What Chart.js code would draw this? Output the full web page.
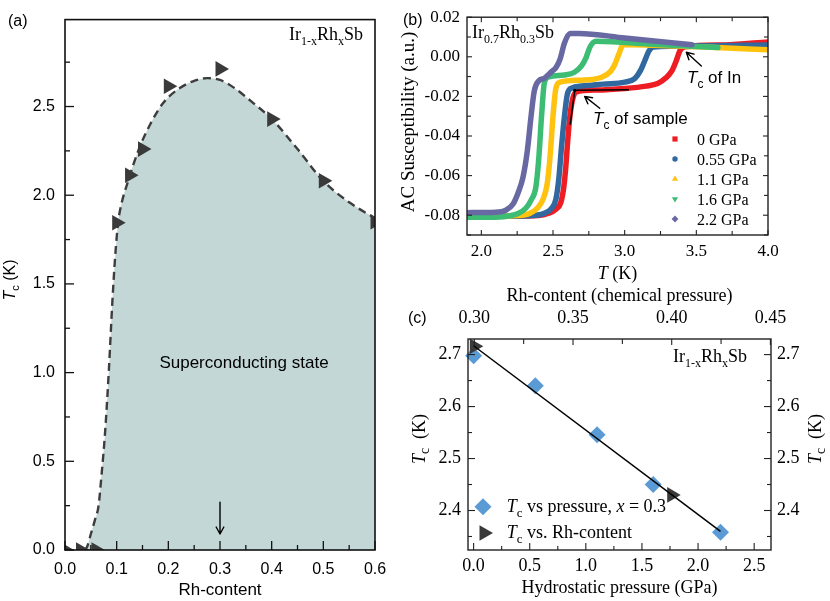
<!DOCTYPE html>
<html><head><meta charset="utf-8">
<script src="https://cdn.jsdelivr.net/npm/chart.js@4/dist/chart.umd.min.js"></script>
<style>
html,body{margin:0;padding:0;background:#fff;}
#wrap{position:relative;width:830px;height:601px;overflow:hidden;background:#fff;}
canvas{position:absolute;display:block;}
</style></head><body>
<div id="wrap">
<canvas id="ca" width="400" height="601" style="left:0;top:0;width:400px;height:601px"></canvas>
<canvas id="cb" width="430" height="290" style="left:400px;top:0;width:430px;height:290px"></canvas>
<canvas id="cc" width="430" height="321" style="left:400px;top:280px;width:430px;height:321px"></canvas>
</div>
<script>
// ---------- Panel (a): Tc vs Rh-content ----------
const rhContent = [0, 0.03, 0.06, 0.1, 0.125, 0.15, 0.2, 0.3, 0.4, 0.5, 0.6];
const tcRh      = [0, 0, 0, 1.845, 2.113, 2.26, 2.614, 2.712, 2.429, 2.082, 1.85];
const boundaryX = [0.038, 0.043, 0.05, 0.058, 0.065, 0.07, 0.078, 0.085, 0.0915, 0.097, 0.103, 0.11, 0.12, 0.143, 0.165, 0.19, 0.22, 0.25, 0.275, 0.3, 0.33, 0.36, 0.4, 0.45, 0.5, 0.55, 0.6];
const boundaryY = [0, 0.02, 0.09, 0.17, 0.25, 0.4, 0.68, 1.02, 1.39, 1.65, 1.85, 1.96, 2.06, 2.26, 2.4, 2.52, 2.6, 2.645, 2.66, 2.65, 2.6, 2.53, 2.43, 2.26, 2.08, 1.96, 1.87];

// ---------- Panel (b): AC susceptibility vs T ----------
const pressureLabels = ['0 GPa', '0.55 GPa', '1.1 GPa', '1.6 GPa', '2.2 GPa'];
const T_p0   = [1.9, 2.2, 2.4, 2.47, 2.52, 2.555, 2.575, 2.59, 2.6, 2.615, 2.635, 2.66, 2.8, 3.0, 3.15, 3.23, 3.29, 3.33, 3.36, 3.385, 3.42, 3.7, 4.0];
const chi_p0 = [-0.0805, -0.0805, -0.0802, -0.079, -0.077, -0.0735, -0.066, -0.055, -0.045, -0.032, -0.022, -0.0178, -0.0168, -0.016, -0.0148, -0.0135, -0.0105, -0.007, -0.002, 0.003, 0.005, 0.006, 0.0075];
const T_p055   = [1.9, 2.2, 2.36, 2.44, 2.49, 2.52, 2.54, 2.56, 2.58, 2.6, 2.63, 2.7, 2.85, 3.0, 3.07, 3.11, 3.14, 3.17, 3.2, 3.5, 4.0];
const chi_p055 = [-0.0805, -0.0805, -0.0802, -0.079, -0.0765, -0.072, -0.062, -0.045, -0.03, -0.019, -0.0158, -0.0148, -0.0138, -0.0128, -0.011, -0.007, -0.002, 0.003, 0.005, 0.0055, 0.006];
const T_p11   = [1.9, 2.1, 2.26, 2.34, 2.39, 2.43, 2.46, 2.48, 2.5, 2.52, 2.55, 2.7, 2.84, 2.9, 2.93, 2.96, 2.99, 3.2, 3.6, 4.0];
const chi_p11 = [-0.0805, -0.0805, -0.0802, -0.079, -0.0765, -0.072, -0.064, -0.05, -0.03, -0.016, -0.0128, -0.0118, -0.0103, -0.0075, -0.004, 0.0015, 0.0062, 0.0058, 0.0048, 0.0035];
const T_p16   = [1.9, 2.05, 2.18, 2.26, 2.31, 2.35, 2.38, 2.4, 2.42, 2.44, 2.47, 2.58, 2.65, 2.7, 2.73, 2.76, 2.8, 3.2, 3.65];
const chi_p16 = [-0.081, -0.081, -0.0805, -0.079, -0.0765, -0.072, -0.066, -0.052, -0.03, -0.013, -0.0102, -0.0092, -0.0078, -0.0045, -0.0005, 0.0052, 0.0078, 0.0063, 0.0047];
const T_p22   = [1.9, 2.1, 2.17, 2.22, 2.26, 2.29, 2.32, 2.35, 2.37, 2.4, 2.44, 2.49, 2.52, 2.55, 2.58, 2.62, 2.68, 3.0, 3.47];
const chi_p22 = [-0.0787, -0.0785, -0.0775, -0.0745, -0.068, -0.061, -0.048, -0.028, -0.017, -0.0122, -0.0108, -0.0075, -0.0055, -0.001, 0.007, 0.0118, 0.0118, 0.0095, 0.0061];
const tangentVT = [2.62, 2.652], tangentVChi = [-0.0343, -0.017];
const tangentHT = [2.652, 3.03], tangentHChi = [-0.0169, -0.0166];
const arrowSampleT = [2.826, 2.721], arrowSampleChi = [-0.026, -0.020];
const arrowInT = [3.535, 3.43], arrowInChi = [-0.0046, 0.0023];

// ---------- Panel (c): Tc vs pressure / Rh-content ----------
const pressureGPa = [0, 0.55, 1.1, 1.6, 2.2];
const tcPressure  = [2.698, 2.64, 2.546, 2.45, 2.358];
const rhContentC  = [0.3, 0.4];
const tcRhC       = [2.716, 2.43];
const fitP  = [0, 2.2];
const fitTc = [2.717, 2.36];

const SANS = '"Liberation Sans", Arial, Helvetica, sans-serif';
const SERIF = '"Liberation Serif", "Times New Roman", Times, serif';
const f = (size, fam, style) => (style ? style + ' ' : '') + size + 'px ' + fam;
const pts = (xs, ys) => xs.map((x, i) => ({x: x, y: ys[i]}));

function rich(ctx, parts, x, y, align, rot) {
  ctx.save();
  ctx.translate(x, y);
  if (rot) ctx.rotate(rot);
  ctx.textBaseline = 'alphabetic';
  ctx.textAlign = 'left';
  ctx.fillStyle = '#000';
  let w = 0;
  parts.forEach(p => { ctx.font = p[1]; w += ctx.measureText(p[0]).width; });
  let cx = align === 'center' ? -w / 2 : (align === 'right' ? -w : 0);
  parts.forEach(p => { ctx.font = p[1]; ctx.fillText(p[0], cx, p[2] || 0); cx += ctx.measureText(p[0]).width; });
  ctx.restore();
}
function arrow(ctx, x0, y0, x1, y1, head, lw) {
  const a = Math.atan2(y1 - y0, x1 - x0);
  ctx.save();
  ctx.strokeStyle = '#000'; ctx.lineWidth = lw; ctx.lineCap = 'round'; ctx.lineJoin = 'round';
  ctx.beginPath();
  ctx.moveTo(x0, y0); ctx.lineTo(x1, y1);
  ctx.moveTo(x1 - head * Math.cos(a - 0.5), y1 - head * Math.sin(a - 0.5));
  ctx.lineTo(x1, y1);
  ctx.lineTo(x1 - head * Math.cos(a + 0.5), y1 - head * Math.sin(a + 0.5));
  ctx.stroke();
  ctx.restore();
}
function marker(ctx, style, x, y, r, color) {
  ctx.save();
  ctx.fillStyle = color;
  ctx.beginPath();
  if (style === 'square') ctx.rect(x - r, y - r, 2 * r, 2 * r);
  else if (style === 'circle') ctx.arc(x, y, r, 0, Math.PI * 2);
  else if (style === 'up') { ctx.moveTo(x, y - r); ctx.lineTo(x + 0.866 * r, y + 0.5 * r); ctx.lineTo(x - 0.866 * r, y + 0.5 * r); }
  else if (style === 'down') { ctx.moveTo(x, y + r); ctx.lineTo(x + 0.866 * r, y - 0.5 * r); ctx.lineTo(x - 0.866 * r, y - 0.5 * r); }
  else if (style === 'right') { ctx.moveTo(x + r, y); ctx.lineTo(x - 0.5 * r, y - 0.866 * r); ctx.lineTo(x - 0.5 * r, y + 0.866 * r); }
  else if (style === 'diamond') { ctx.moveTo(x, y - r); ctx.lineTo(x + r, y); ctx.lineTo(x, y + r); ctx.lineTo(x - r, y); }
  ctx.closePath();
  ctx.fill();
  ctx.restore();
}
function framePlugin(cfg) {
  return {
    id: 'frame',
    afterDatasetsDraw(chart) {
      const ctx = chart.ctx, a = chart.chartArea;
      ctx.save();
      ctx.strokeStyle = cfg.color; ctx.lineWidth = cfg.tickWidth;
      cfg.ticks.forEach(t => {
        const sc = chart.scales[t.scale];
        const k0 = Math.ceil(sc.min / t.minor - 1e-6), k1 = Math.floor(sc.max / t.minor + 1e-6);
        for (let k = k0; k <= k1; k++) {
          const v = k * t.minor;
          const major = Math.abs(v / t.major - Math.round(v / t.major)) < 1e-6;
          const len = major ? t.majorLen : t.minorLen;
          const p = sc.getPixelForValue(v);
          ctx.beginPath();
          if (t.side === 'left') { ctx.moveTo(a.left, p); ctx.lineTo(a.left + len, p); }
          if (t.side === 'right') { ctx.moveTo(a.right, p); ctx.lineTo(a.right - len, p); }
          if (t.side === 'bottom') { ctx.moveTo(p, a.bottom); ctx.lineTo(p, a.bottom - len); }
          if (t.side === 'top') { ctx.moveTo(p, a.top); ctx.lineTo(p, a.top + len); }
          ctx.stroke();
        }
      });
      ctx.lineWidth = cfg.frameWidth;
      ctx.strokeRect(a.left, a.top, a.right - a.left, a.bottom - a.top);
      ctx.restore();
    }
  };
}
function axisOpts(o) {
  return {
    type: 'linear', position: o.position, min: o.min, max: o.max,
    grid: {display: false, drawTicks: false}, border: {display: false},
    ticks: {display: o.showLabels !== false, stepSize: o.step, padding: o.pad, color: '#000', font: {family: o.fam, size: o.size},
            maxRotation: 0, autoSkip: false, includeBounds: false, callback: v => v.toFixed(o.dec)},
    afterFit(s) { if (o.width !== undefined) s.width = o.width; if (o.height !== undefined) s.height = o.height; }
  };
}
const common = {
  responsive: false, animation: false, events: [],
  plugins: {legend: {display: false}, tooltip: {enabled: false}}
};

// ---------- Chart (a) ----------
new Chart(document.getElementById('ca'), {
  type: 'line',
  data: {datasets: [
    {label: 'Tc vs Rh', data: pts(rhContent, tcRh), showLine: false, pointStyle: 'triangle', pointRotation: 90,
     pointRadius: 9, pointBackgroundColor: '#3a3a3a', pointBorderWidth: 0, clip: 0, order: 0},
    {label: 'boundary', data: pts(boundaryX, boundaryY), borderColor: '#3d3d3d', borderWidth: 2.4, borderDash: [8, 5],
     fill: 'origin', backgroundColor: '#c4d7d7', pointRadius: 0, cubicInterpolationMode: 'monotone', clip: 0, order: 1}
  ]},
  options: Object.assign({}, common, {
    layout: {autoPadding: false, padding: {left: 0, right: 25, top: 13, bottom: 0}},
    scales: {
      x: axisOpts({position: 'bottom', min: 0, max: 0.6, step: 0.1, pad: 10, fam: SANS, size: 16, dec: 1, height: 51}),
      y: axisOpts({position: 'left', min: 0, max: 2.99, step: 0.5, pad: 10, fam: SANS, size: 16, dec: 1, width: 65})
    }
  }),
  plugins: [framePlugin({color: '#111', tickWidth: 1.3, frameWidth: 1.6, ticks: [
    {scale: 'x', side: 'bottom', major: 0.1, minor: 0.05, majorLen: 9, minorLen: 5},
    {scale: 'y', side: 'left', major: 0.5, minor: 0.25, majorLen: 9, minorLen: 5}
  ]}), {
    id: 'txtA',
    afterDraw(chart) {
      const ctx = chart.ctx, xs = chart.scales.x, ys = chart.scales.y;
      rich(ctx, [['(a)', f(16, SANS)]], 8, 26, 'left');
      rich(ctx, [['Ir', f(18, SERIF)], ['1-x', f(12, SERIF), 5], ['Rh', f(18, SERIF)], ['x', f(12, SERIF), 5], ['Sb', f(18, SERIF)]], 289, 40, 'left');
      rich(ctx, [['Superconducting state', f(17, SANS)]], 244, 368, 'center');
      rich(ctx, [['Rh-content', f(17, SANS)]], 220, 595, 'center');
      rich(ctx, [['T', f(16, SANS, 'italic')], ['c', f(11, SANS), 4], [' (K)', f(16, SANS)]], 15, 280, 'center', -Math.PI / 2);
      arrow(ctx, xs.getPixelForValue(0.3), ys.getPixelForValue(0.27), xs.getPixelForValue(0.3), ys.getPixelForValue(0.09), 8, 1.4);
    }
  }]
});

// ---------- Chart (b) ----------
const bColors = ['#ee1d23', '#30689f', '#ffc20f', '#3dbd74', '#6868a3'];
const bMarkers = ['square', 'circle', 'up', 'down', 'diamond'];
const bSeries = [[T_p0, chi_p0], [T_p055, chi_p055], [T_p11, chi_p11], [T_p16, chi_p16], [T_p22, chi_p22]];
const bDatasets = bSeries.map((s, i) => ({
  label: pressureLabels[i], data: pts(s[0], s[1]), borderColor: bColors[i], borderWidth: 5.5,
  borderCapStyle: 'round', borderJoinStyle: 'round', pointRadius: 0, cubicInterpolationMode: 'monotone',
  fill: false, clip: 0, order: 5 - i
}));
bDatasets.push({label: 'tangent1', data: pts(tangentVT, tangentVChi), borderColor: '#000', borderWidth: 1.5, pointRadius: 0, fill: false, order: 0});
bDatasets.push({label: 'tangent2', data: pts(tangentHT, tangentHChi), borderColor: '#000', borderWidth: 1.5, pointRadius: 0, fill: false, order: 0});
new Chart(document.getElementById('cb'), {
  type: 'line',
  data: {datasets: bDatasets},
  options: Object.assign({}, common, {
    layout: {autoPadding: false, padding: {left: 0, right: 62, top: 13, bottom: 0}},
    scales: {
      x: axisOpts({position: 'bottom', min: 1.9, max: 4.0, step: 0.5, pad: 6, fam: SERIF, size: 17, dec: 1, height: 55}),
      y: axisOpts({position: 'left', min: -0.09, max: 0.02, step: 0.02, pad: 7, fam: SERIF, size: 17, dec: 2, width: 67})
    }
  }),
  plugins: [framePlugin({color: '#222', tickWidth: 1.1, frameWidth: 1.4, ticks: [
    {scale: 'x', side: 'bottom', major: 0.5, minor: 0.25, majorLen: 5, minorLen: 4},
    {scale: 'x', side: 'top', major: 0.5, minor: 0.25, majorLen: 5, minorLen: 4},
    {scale: 'y', side: 'left', major: 0.02, minor: 0.01, majorLen: 5, minorLen: 4},
    {scale: 'y', side: 'right', major: 0.02, minor: 0.01, majorLen: 5, minorLen: 4}
  ]}), {
    id: 'txtB',
    afterDraw(chart) {
      const ctx = chart.ctx, xs = chart.scales.x, ys = chart.scales.y;
      const X = v => xs.getPixelForValue(v), Y = v => ys.getPixelForValue(v);
      rich(ctx, [['(b)', f(16, SANS)]], 3, 25, 'left');
      rich(ctx, [['Ir', f(18, SERIF)], ['0.7', f(12, SERIF), 5], ['Rh', f(18, SERIF)], ['0.3', f(12, SERIF), 5], ['Sb', f(18, SERIF)]], 72, 38, 'left');
      rich(ctx, [['T', f(17, SANS, 'italic')], ['c', f(12, SANS), 5], [' of sample', f(17, SANS)]], 193, 124, 'left');
      rich(ctx, [['T', f(17, SANS, 'italic')], ['c', f(12, SANS), 5], [' of In', f(17, SANS)]], 287, 83, 'left');
      arrow(ctx, X(arrowSampleT[0]), Y(arrowSampleChi[0]), X(arrowSampleT[1]), Y(arrowSampleChi[1]), 8, 1.4);
      arrow(ctx, X(arrowInT[0]), Y(arrowInChi[0]), X(arrowInT[1]), Y(arrowInChi[1]), 8, 1.4);
      ctx.fillStyle = '#000'; ctx.beginPath(); ctx.arc(X(tangentVT[1]), Y(tangentVChi[1]), 1.6, 0, Math.PI * 2); ctx.fill();
      const mr = [2.6, 2.7, 3.6, 3.6, 3.4];
      pressureLabels.forEach((lab, i) => {
        const yy = 139 + i * 20;
        marker(ctx, bMarkers[i], 275, yy, mr[i], bColors[i]);
        rich(ctx, [[lab, f(16, SERIF)]], 297, yy + 5.5, 'left');
      });
      rich(ctx, [['T', f(18, SERIF, 'italic')], [' (K)', f(18, SERIF)]], 217.5, 279, 'center');
      rich(ctx, [['AC Susceptibility (a.u.)', f(19, SERIF)]], 14, 122, 'center', -Math.PI / 2);
    }
  }]
});

// ---------- Chart (c) ----------
new Chart(document.getElementById('cc'), {
  type: 'line',
  data: {datasets: [
    {label: 'fit', data: pts(fitP, fitTc), borderColor: '#000', borderWidth: 1.5, pointRadius: 0, fill: false, order: 0},
    {label: 'Tc vs. Rh-content', data: pts(rhContentC, tcRhC), xAxisID: 'x2', showLine: false, pointStyle: 'triangle', pointRotation: 90,
     pointRadius: 9, pointBackgroundColor: '#3a3a3a', pointBorderWidth: 0, clip: false, order: 1},
    {label: 'Tc vs pressure, x = 0.3', data: pts(pressureGPa, tcPressure), showLine: false, pointStyle: 'rectRot',
     pointRadius: 8.5, pointBackgroundColor: '#5b9bd5', pointBorderWidth: 0, clip: false, order: 2}
  ]},
  options: Object.assign({}, common, {
    layout: {autoPadding: false, padding: 0},
    scales: {
      x: axisOpts({position: 'bottom', min: -0.05, max: 2.65, step: 0.5, pad: 5, fam: SERIF, size: 18, dec: 1, height: 51}),
      x2: axisOpts({position: 'top', min: 0.2968, max: 0.4503, step: 0.05, pad: 10, fam: SERIF, size: 18, dec: 2, height: 59}),
      y: axisOpts({position: 'left', min: 2.324, max: 2.73, step: 0.1, pad: 7, fam: SERIF, size: 18, dec: 1, width: 68}),
      y2: axisOpts({position: 'right', min: 2.324, max: 2.73, step: 0.1, pad: 6, fam: SERIF, size: 18, dec: 1, width: 59})
    }
  }),
  plugins: [framePlugin({color: '#222', tickWidth: 1.1, frameWidth: 1.4, ticks: [
    {scale: 'x', side: 'bottom', major: 0.5, minor: 0.25, majorLen: 7, minorLen: 4},
    {scale: 'x2', side: 'top', major: 0.05, minor: 0.025, majorLen: 6, minorLen: 5},
    {scale: 'y', side: 'left', major: 0.1, minor: 0.05, majorLen: 7, minorLen: 4},
    {scale: 'y2', side: 'right', major: 0.1, minor: 0.05, majorLen: 7, minorLen: 4}
  ]}), {
    id: 'txtC',
    afterDraw(chart) {
      const ctx = chart.ctx;
      rich(ctx, [['(c)', f(16, SANS)]], 8, 43, 'left');
      rich(ctx, [['Rh-content (chemical pressure)', f(18, SERIF)]], 219.5, 21, 'center');
      rich(ctx, [['Ir', f(18, SERIF)], ['1-x', f(12, SERIF), 5], ['Rh', f(18, SERIF)], ['x', f(12, SERIF), 5], ['Sb', f(18, SERIF)]], 273, 82, 'left');
      marker(ctx, 'diamond', 83, 226.7, 8.5, '#5b9bd5');
      rich(ctx, [['T', f(18, SERIF, 'italic')], ['c', f(13, SERIF), 5], [' vs pressure, ', f(18, SERIF)], ['x', f(18, SERIF, 'italic')], [' = 0.3', f(18, SERIF)]], 106.7, 231.7, 'left');
      marker(ctx, 'right', 84, 253, 9, '#3a3a3a');
      rich(ctx, [['T', f(18, SERIF, 'italic')], ['c', f(13, SERIF), 5], [' vs. Rh-content', f(18, SERIF)]], 106.7, 257.5, 'left');
      rich(ctx, [['Hydrostatic pressure (GPa)', f(18, SERIF)]], 219.5, 313, 'center');
      rich(ctx, [['T', f(18, SERIF, 'italic')], ['c', f(14, SERIF), 4], ['  (K)', f(18, SERIF)]], 25, 159, 'center', -Math.PI / 2);
      rich(ctx, [['T', f(18, SERIF, 'italic')], ['c', f(14, SERIF), 4], ['  (K)', f(18, SERIF)]], 421, 159, 'center', -Math.PI / 2);
    }
  }]
});
</script>
</body></html>
